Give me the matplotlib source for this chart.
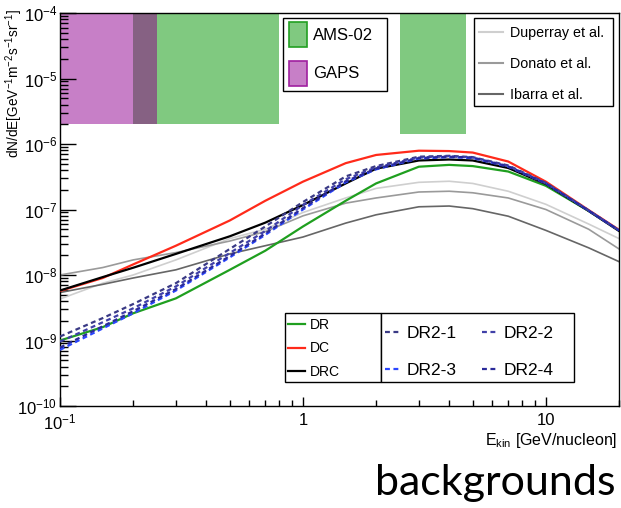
import numpy as np
import matplotlib
matplotlib.use('Agg')
import matplotlib.pyplot as plt
from matplotlib.patches import Rectangle, Patch
from matplotlib.lines import Line2D
from matplotlib.ticker import FixedLocator, FuncFormatter, LogLocator, NullFormatter

plt.rcParams['font.family'] = ['Liberation Sans', 'DejaVu Sans']
plt.rcParams['mathtext.fontset'] = 'custom'
plt.rcParams['mathtext.rm'] = 'Liberation Sans'
plt.rcParams['mathtext.it'] = 'Liberation Sans:italic'
plt.rcParams['mathtext.bf'] = 'Liberation Sans:bold'

# kinetic energy grid [GeV/nucleon]
energy = [0.1, 0.15, 0.2, 0.3, 0.5, 0.7, 1, 1.5, 2, 3, 4, 5, 7, 10, 15, 20]

dr = [1.0e-9, 1.6e-9, 2.6e-9, 4.4e-9, 1.2e-8, 2.35e-8, 5.5e-8, 1.36e-7, 2.5e-7, 4.5e-7, 4.8e-7, 4.6e-7, 3.8e-7, 2.3e-7, 9.5e-8, 4.8e-8]
dc = [5.7e-9, 9.0e-9, 1.45e-8, 2.8e-8, 6.8e-8, 1.36e-7, 2.66e-7, 5.1e-7, 6.8e-7, 7.9e-7, 7.8e-7, 7.4e-7, 5.4e-7, 2.66e-7, 9.8e-8, 4.9e-8]
drc = [5.8e-9, 9.3e-9, 1.29e-8, 2.1e-8, 3.9e-8, 6.3e-8, 1.17e-7, 2.5e-7, 4.2e-7, 5.6e-7, 5.8e-7, 5.6e-7, 4.3e-7, 2.45e-7, 9.5e-8, 4.7e-8]

dr2_1 = [1.15e-9, 2.2e-9, 3.6e-9, 7.5e-9, 2.5e-8, 5.5e-8, 1.3e-7, 3.2e-7, 4.6e-7, 6.4e-7, 6.6e-7, 6.3e-7, 4.7e-7, 2.55e-7, 9.7e-8, 4.8e-8]
dr2_2 = [9.6e-10, 1.9e-9, 3.1e-9, 6.7e-9, 2.17e-8, 4.7e-8, 1.17e-7, 2.9e-7, 4.4e-7, 6.2e-7, 6.5e-7, 6.2e-7, 4.6e-7, 2.5e-7, 9.6e-8, 4.8e-8]
dr2_3 = [7.2e-10, 1.53e-9, 2.6e-9, 5.8e-9, 1.86e-8, 4.1e-8, 1.0e-7, 2.6e-7, 4.1e-7, 6.0e-7, 6.3e-7, 6.1e-7, 4.5e-7, 2.5e-7, 9.6e-8, 4.8e-8]
dr2_4 = [7.8e-10, 1.65e-9, 2.8e-9, 6.1e-9, 1.95e-8, 4.3e-8, 1.05e-7, 2.7e-7, 4.2e-7, 6.1e-7, 6.4e-7, 6.2e-7, 4.55e-7, 2.5e-7, 9.6e-8, 4.8e-8]

duperray = [4.3e-9, 7.5e-9, 1.0e-8, 1.7e-8, 3.6e-8, 5.0e-8, 9.0e-8, 1.5e-7, 2.1e-7, 2.6e-7, 2.7e-7, 2.5e-7, 1.9e-7, 1.2e-7, 6.0e-8, 3.6e-8]
donato = [1.0e-8, 1.3e-8, 1.7e-8, 2.2e-8, 3.3e-8, 4.6e-8, 8.0e-8, 1.25e-7, 1.5e-7, 1.85e-7, 1.9e-7, 1.8e-7, 1.5e-7, 1.0e-7, 5.0e-8, 2.5e-8]
ibarra = [5.4e-9, 7.2e-9, 9.0e-9, 1.2e-8, 2.1e-8, 2.8e-8, 3.8e-8, 6.2e-8, 8.3e-8, 1.1e-7, 1.13e-7, 1.03e-7, 7.9e-8, 4.8e-8, 2.6e-8, 1.6e-8]

# sensitivity regions: (Emin, Emax, flux lower edge)
gaps_band = (0.1, 0.25, 2e-6)
ams_band1 = (0.2, 0.8, 2e-6)
ams_band2 = (2.5, 4.7, 1.4e-6)

W, H = 621, 508
fig = plt.figure(figsize=(W / 100, H / 100), dpi=100)
fx = lambda px: px / W
fy = lambda py: 1 - py / H

ax = fig.add_axes([fx(60), fy(406), fx(619) - fx(60), fy(13) - fy(406)])
ax.set_xscale('log')
ax.set_yscale('log')
ax.set_xlim(0.1, 20)
ax.set_ylim(1e-10, 1e-4)

green_fill = '#80c980'
mag_fill = '#c77fc7'
overlap_fill = '#866183'
ax.fill_between([gaps_band[0], gaps_band[1]], gaps_band[2], 1e-4, color=mag_fill, lw=0, zorder=1)
ax.fill_between([ams_band1[0], ams_band1[1]], ams_band1[2], 1e-4, color=green_fill, lw=0, zorder=1)
ax.fill_between([ams_band1[0], gaps_band[1]], ams_band1[2], 1e-4, color=overlap_fill, lw=0, zorder=1)
ax.fill_between([ams_band2[0], ams_band2[1]], ams_band2[2], 1e-4, color=green_fill, lw=0, zorder=1)

c_dup, c_don, c_iba = '#cfcfcf', '#9a9a9a', '#666666'
ax.plot(energy, duperray, color=c_dup, lw=1.2, zorder=2)
ax.plot(energy, donato, color=c_don, lw=1.2, zorder=2)
ax.plot(energy, ibarra, color=c_iba, lw=1.2, zorder=2)

c_dr, c_dc, c_drc = '#1f9f1f', '#ff2a1a', 'black'
ax.plot(energy, dr, color=c_dr, lw=1.6, zorder=3)
ax.plot(energy, dc, color=c_dc, lw=1.6, zorder=3)
ax.plot(energy, drc, color=c_drc, lw=1.6, zorder=3)

c21, c22, c23, c24 = '#3a3a85', '#4040a8', '#2a46ff', '#2a2a9a'
dash = (0, (2.2, 1.6))
ax.plot(energy, dr2_1, color=c21, lw=1.6, ls=dash, zorder=4)
ax.plot(energy, dr2_2, color=c22, lw=1.6, ls=dash, zorder=4)
ax.plot(energy, dr2_3, color=c23, lw=1.6, ls=dash, zorder=4)
ax.plot(energy, dr2_4, color=c24, lw=1.6, ls=dash, zorder=4)

# axes ticks, ROOT-like
ax.xaxis.set_major_locator(FixedLocator([0.1, 1, 10]))
xlab = {0.1: r'$10^{-1}$', 1: '1', 10: '10'}
ax.xaxis.set_major_formatter(FuncFormatter(lambda v, p: xlab.get(round(v, 3), '')))
ax.xaxis.set_minor_locator(LogLocator(base=10, subs=np.arange(2, 10)))
ax.xaxis.set_minor_formatter(NullFormatter())
ax.yaxis.set_major_locator(LogLocator(base=10, numticks=10))
ax.yaxis.set_minor_locator(LogLocator(base=10, subs=np.arange(2, 10), numticks=20))
ax.yaxis.set_minor_formatter(NullFormatter())
ax.tick_params(axis='x', which='major', direction='in', length=6.5, width=1, labelsize=12, pad=5)
ax.tick_params(axis='x', which='minor', direction='in', length=4.3, width=1)
ax.tick_params(axis='y', which='major', direction='in', length=11.5, width=1, labelsize=12, pad=2)
ax.tick_params(axis='y', which='minor', direction='in', length=5.8, width=1)
for s in ax.spines.values():
    s.set_linewidth(1)

fig.text(fx(617), fy(441), r'E$_{\mathrm{kin}}$ [GeV/nucleon]', ha='right', va='center', fontsize=11.5)
fig.text(fx(14), fy(9), r'dN/dE[GeV$^{-1}$m$^{-2}$s$^{-1}$sr$^{-1}$]', ha='center', va='top',
         rotation=90, fontsize=9.8)

def frame(x0, y0, x1, y1):
    fig.add_artist(Rectangle((fx(x0), fy(y1)), fx(x1) - fx(x0), fy(y0) - fy(y1),
                             transform=fig.transFigure, facecolor='white', edgecolor='black',
                             lw=1, zorder=5))

# legend 1: experiments
frame(283, 18, 387, 91)
h1 = [Patch(facecolor=green_fill, edgecolor='#22a022', lw=1.2),
      Patch(facecolor=mag_fill, edgecolor='#a020a0', lw=1.2)]
fig.legend(h1, ['AMS-02', 'GAPS'], loc='upper left', bbox_to_anchor=(fx(289), fy(22)),
           frameon=False, fontsize=12, borderpad=0, borderaxespad=0, handlelength=1.1,
           handleheight=1.9, handletextpad=0.35, labelspacing=0.85).set_zorder(6)

# legend 2: other models
frame(474, 18, 613, 106)
h2 = [Line2D([], [], color=c_dup, lw=1.5), Line2D([], [], color=c_don, lw=1.5),
      Line2D([], [], color=c_iba, lw=1.5)]
fig.legend(h2, ['Duperray et al.', 'Donato et al.', 'Ibarra et al.'], loc='upper left',
           bbox_to_anchor=(fx(479), fy(26)), frameon=False, fontsize=10.3, borderpad=0,
           borderaxespad=0, handlelength=1.7, handletextpad=0.45, labelspacing=1.2).set_zorder(6)

# legend 3: this work
frame(285, 313, 381, 382)
frame(381, 313, 574, 382)
h3 = [Line2D([], [], color=c_dr, lw=1.6), Line2D([], [], color=c_dc, lw=1.6),
      Line2D([], [], color=c_drc, lw=1.6)]
fig.legend(h3, ['DR', 'DC', 'DRC'], loc='upper left', bbox_to_anchor=(fx(288), fy(318)),
           frameon=False, fontsize=10, borderpad=0, borderaxespad=0, handlelength=1.25,
           handletextpad=0.3, labelspacing=0.68).set_zorder(6)
# column-major order so rows read DR2-1, DR2-2 / DR2-3, DR2-4
h4 = [Line2D([], [], color=c, lw=1.6, ls=dash) for c in (c21, c23, c22, c24)]
fig.legend(h4, ['DR2-1', 'DR2-3', 'DR2-2', 'DR2-4'], loc='upper left', ncol=2,
           bbox_to_anchor=(fx(385), fy(326)), frameon=False, fontsize=12.5, borderpad=0,
           borderaxespad=0, handlelength=0.95, handletextpad=0.3, labelspacing=1.25,
           columnspacing=1.45).set_zorder(6)

fig.text(fx(615), fy(495), 'backgrounds', ha='right', va='baseline', fontsize=31,
         family=['Lato', 'DejaVu Sans'])

fig.savefig('out.png', dpi=100)
